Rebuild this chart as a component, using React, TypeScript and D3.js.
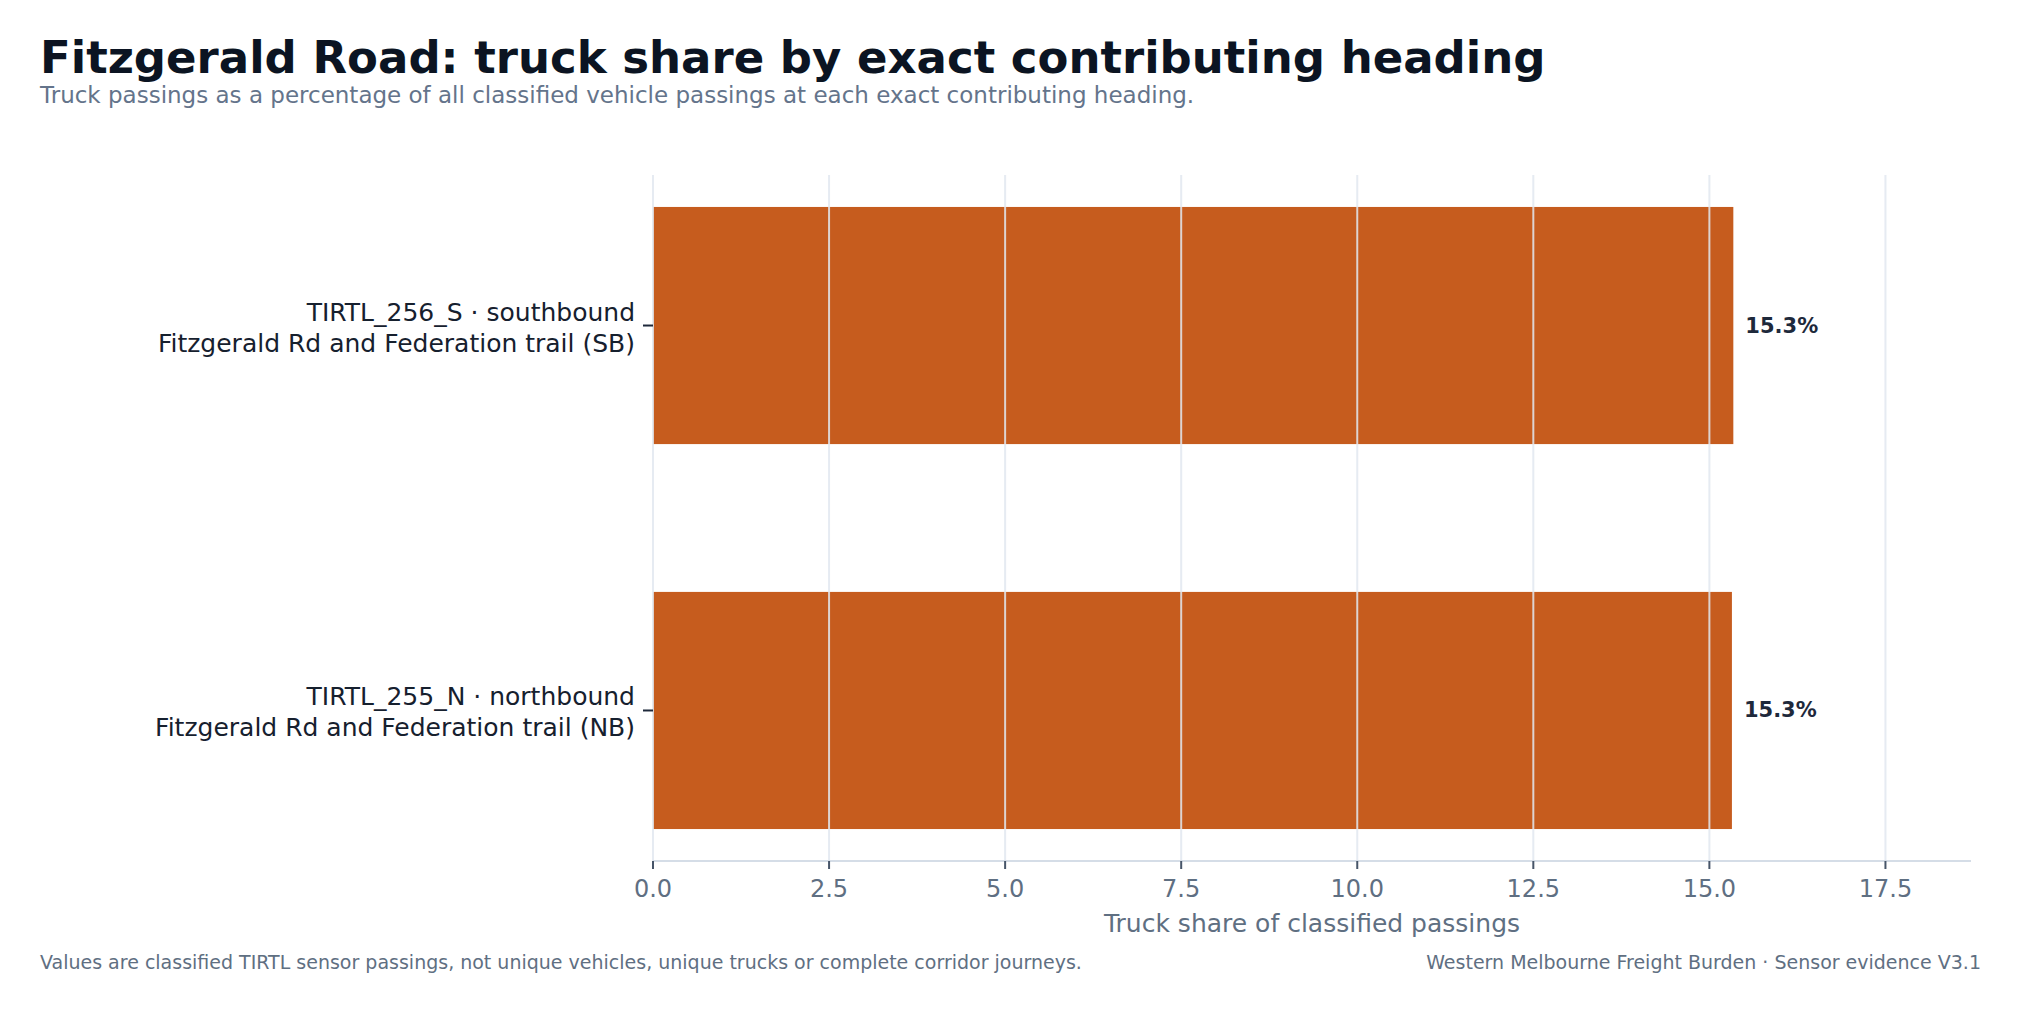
import React, { useEffect, useRef } from 'react';
import * as d3 from 'd3';

// data
const headingIds = ['TIRTL_256_S · southbound', 'TIRTL_255_N · northbound'];
const headingSites = ['Fitzgerald Rd and Federation trail (SB)', 'Fitzgerald Rd and Federation trail (NB)'];
const truckShares = [15.34, 15.32];
const xTicks = [0, 2.5, 5, 7.5, 10, 12.5, 15, 17.5];

const App: React.FC = () => {
  const width = 2021;
  const height = 1013;
  const svgRef = useRef<SVGSVGElement>(null);

  useEffect(() => {
    if (!svgRef.current) return;

    const svg = d3.select(svgRef.current);
    svg.selectAll('*').remove();

    const font = '"DejaVu Sans", sans-serif';
    const left = 653;
    const right = 1971;
    const top = 175;
    const bottom = 861;

    const maxShare = d3.max(truckShares) as number;

    const x = d3.scaleLinear()
      .domain([0, maxShare * 1.22])
      .range([left, right]);

    const y = d3.scaleBand<number>()
      .domain(d3.range(truckShares.length))
      .range([top, bottom])
      .paddingInner(0.384)
      .paddingOuter(0.083);

    // title block
    svg.append('text')
      .attr('x', 40)
      .attr('y', 73)
      .attr('font-family', font)
      .attr('font-size', 45)
      .attr('font-weight', 'bold')
      .attr('fill', '#0b1422')
      .text('Fitzgerald Road: truck share by exact contributing heading');

    svg.append('text')
      .attr('x', 40)
      .attr('y', 103)
      .attr('font-family', font)
      .attr('font-size', 23)
      .attr('fill', '#64748b')
      .text('Truck passings as a percentage of all classified vehicle passings at each exact contributing heading.');

    // bars
    svg.append('g')
      .selectAll('rect')
      .data(truckShares)
      .join('rect')
      .attr('x', x(0))
      .attr('y', (_, i) => y(i) as number)
      .attr('width', d => x(d) - x(0))
      .attr('height', y.bandwidth())
      .attr('fill', '#c65c1e');

    // vertical grid, drawn over the bars
    svg.append('g')
      .selectAll('line')
      .data(xTicks)
      .join('line')
      .attr('x1', d => x(d))
      .attr('x2', d => x(d))
      .attr('y1', top)
      .attr('y2', bottom)
      .attr('stroke', '#e2e8f0')
      .attr('stroke-width', 2)
      .attr('opacity', 0.85);

    // x axis
    svg.append('line')
      .attr('x1', left)
      .attr('x2', right)
      .attr('y1', bottom)
      .attr('y2', bottom)
      .attr('stroke', '#d5dde7')
      .attr('stroke-width', 2);

    const xAxis = svg.append('g');
    xTicks.forEach(t => {
      xAxis.append('line')
        .attr('x1', x(t))
        .attr('x2', x(t))
        .attr('y1', bottom)
        .attr('y2', bottom + 8)
        .attr('stroke', '#475569')
        .attr('stroke-width', 2);

      xAxis.append('text')
        .attr('x', x(t))
        .attr('y', bottom + 36)
        .attr('text-anchor', 'middle')
        .attr('font-family', font)
        .attr('font-size', 24)
        .attr('fill', '#5f6f82')
        .text(d3.format('.1f')(t));
    });

    svg.append('text')
      .attr('x', (left + right) / 2)
      .attr('y', 932)
      .attr('text-anchor', 'middle')
      .attr('font-family', font)
      .attr('font-size', 25)
      .attr('fill', '#5f6f82')
      .text('Truck share of classified passings');

    // y axis ticks and two-line labels
    truckShares.forEach((d, i) => {
      const cy = (y(i) as number) + y.bandwidth() / 2;

      svg.append('line')
        .attr('x1', left - 10)
        .attr('x2', left)
        .attr('y1', cy)
        .attr('y2', cy)
        .attr('stroke', '#1e293b')
        .attr('stroke-width', 2);

      const label = svg.append('text')
        .attr('text-anchor', 'end')
        .attr('font-family', font)
        .attr('font-size', 25)
        .attr('fill', '#16202e');

      label.append('tspan')
        .attr('x', left - 18)
        .attr('y', cy - 5)
        .text(headingIds[i]);

      label.append('tspan')
        .attr('x', left - 18)
        .attr('y', cy + 26)
        .text(headingSites[i]);

      svg.append('text')
        .attr('x', x(d) + 12)
        .attr('y', cy + 7)
        .attr('font-family', font)
        .attr('font-size', 21)
        .attr('font-weight', 'bold')
        .attr('fill', '#1e293b')
        .text(`${d3.format('.1f')(d)}%`);
    });

    // footer
    svg.append('text')
      .attr('x', 40)
      .attr('y', 969)
      .attr('font-family', font)
      .attr('font-size', 19)
      .attr('fill', '#5f6f82')
      .text('Values are classified TIRTL sensor passings, not unique vehicles, unique trucks or complete corridor journeys.');

    svg.append('text')
      .attr('x', width - 40)
      .attr('y', 969)
      .attr('text-anchor', 'end')
      .attr('font-family', font)
      .attr('font-size', 19)
      .attr('fill', '#5f6f82')
      .text('Western Melbourne Freight Burden · Sensor evidence V3.1');
  }, [height, width]);

  return (
    <svg
      ref={svgRef}
      width={width}
      height={height}
      style={{ position: 'absolute', left: 0, top: 0, background: '#fff' }}
    />
  );
};

export default App;
